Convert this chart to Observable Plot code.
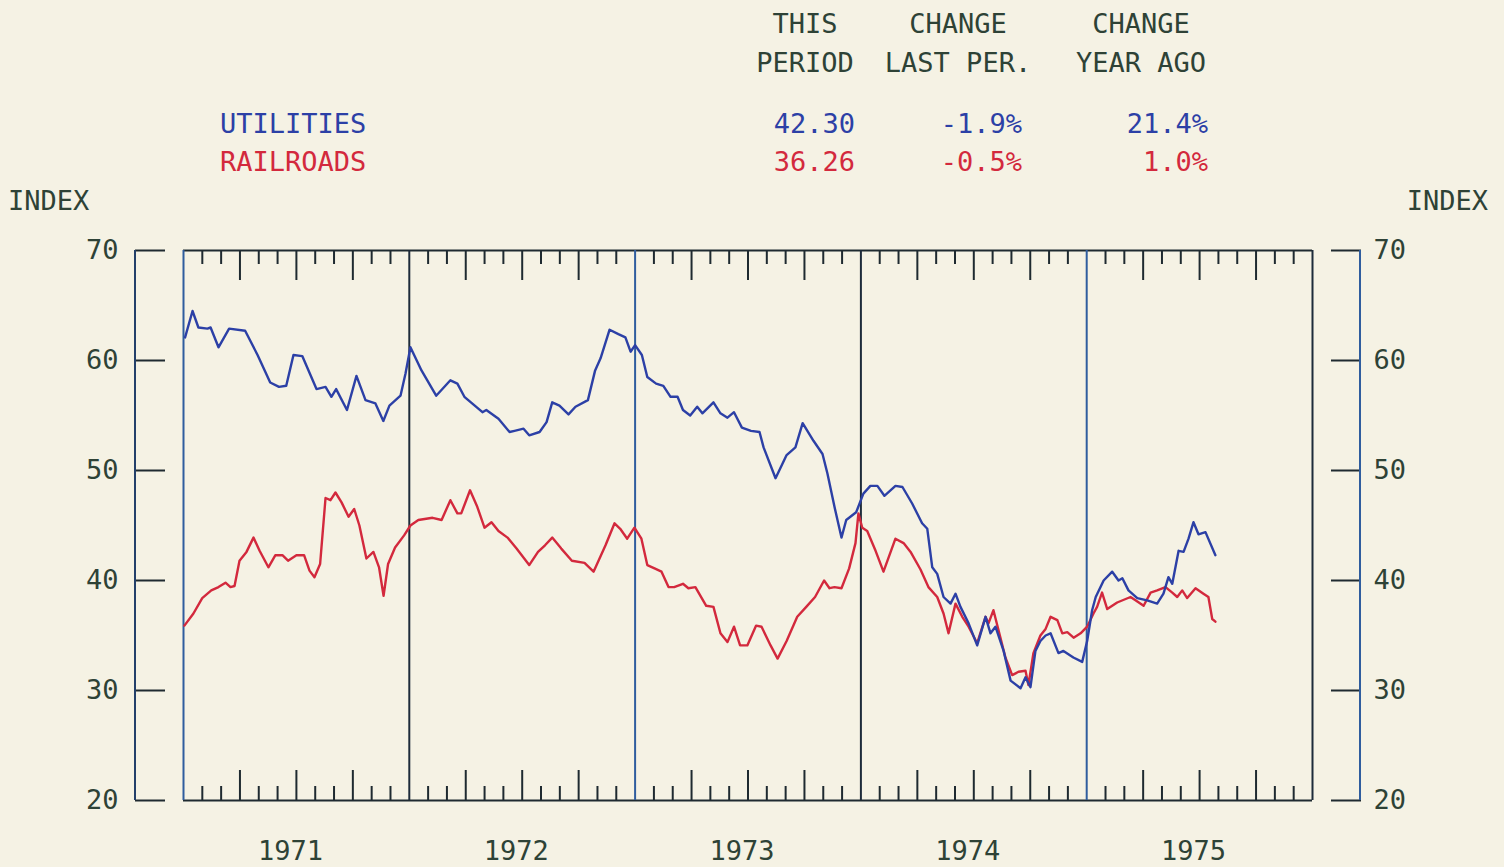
<!DOCTYPE html>
<html><head><meta charset="utf-8">
<script src="https://cdn.jsdelivr.net/npm/d3@7"></script>
<script src="https://cdn.jsdelivr.net/npm/@observablehq/plot@0.6"></script>
<style>
html,body{margin:0;padding:0;background:#f5f2e4;}
#wrap{position:relative;width:1504px;height:867px;overflow:hidden;}
#head{height:200px;}
.lbl{position:absolute;font-family:"DejaVu Sans Mono",monospace;font-size:27px;line-height:32px;white-space:pre;z-index:2;}
</style></head><body>
<div id="wrap"><div id="head"></div><div id="chart"></div></div>
<script>
// ---------- data (decimal years, index values) ----------
const utilYears = [1971.007,1971.040,1971.066,1971.106,1971.120,1971.155,1971.202,1971.273,1971.328,1971.384,1971.423,1971.455,1971.487,1971.526,1971.589,1971.629,1971.655,1971.676,1971.724,1971.766,1971.806,1971.850,1971.885,1971.912,1971.961,1971.983,
1972.005,1972.054,1972.119,1972.182,1972.213,1972.244,1972.324,1972.341,1972.395,1972.444,1972.466,1972.506,1972.531,1972.577,1972.608,1972.633,1972.665,1972.705,1972.736,1972.791,1972.823,1972.847,1972.887,1972.926,1972.957,1972.980,
1973.000,1973.030,1973.054,1973.093,1973.125,1973.157,1973.188,1973.212,1973.244,1973.275,1973.298,1973.347,1973.378,1973.409,1973.438,1973.473,1973.513,1973.551,1973.569,1973.622,1973.671,1973.710,1973.742,1973.790,1973.830,1973.852,1973.883,1973.914,1973.935,1973.979,
1974.011,1974.042,1974.073,1974.104,1974.153,1974.184,1974.227,1974.271,1974.294,1974.316,1974.338,1974.366,1974.397,1974.419,1974.441,1974.477,1974.515,1974.552,1974.574,1974.596,1974.632,1974.663,1974.707,1974.729,1974.751,1974.773,1974.795,1974.818,1974.840,1974.875,1974.897,1974.941,1974.980,
1975.002,1975.024,1975.040,1975.075,1975.113,1975.141,1975.158,1975.185,1975.224,1975.268,1975.312,1975.340,1975.362,1975.379,1975.407,1975.429,1975.451,1975.473,1975.495,1975.526,1975.570];
const utilValues = [62.1,64.5,63.0,62.9,63.0,61.2,62.9,62.7,60.5,58.0,57.6,57.7,60.5,60.4,57.4,57.6,56.7,57.4,55.5,58.6,56.4,56.1,54.5,55.9,56.8,58.8,
61.2,59.1,56.8,58.2,57.9,56.7,55.3,55.5,54.7,53.5,53.6,53.8,53.2,53.5,54.4,56.2,55.9,55.1,55.8,56.4,59.1,60.2,62.8,62.4,62.1,60.8,
61.4,60.5,58.5,57.9,57.7,56.7,56.7,55.5,55.0,55.8,55.2,56.2,55.2,54.8,55.3,53.9,53.6,53.5,52.1,49.3,51.4,52.1,54.3,52.7,51.5,49.7,46.7,43.9,45.5,46.2,
47.9,48.6,48.6,47.7,48.6,48.5,47.0,45.2,44.7,41.2,40.6,38.5,37.9,38.8,37.6,36.1,34.1,36.7,35.2,35.8,33.6,30.9,30.2,31.2,30.3,33.6,34.5,35.0,35.2,33.4,33.6,33.0,32.6,
34.5,37.3,38.5,40.0,40.8,40.0,40.2,39.1,38.4,38.2,37.9,38.8,40.3,39.7,42.7,42.6,43.8,45.3,44.2,44.4,42.3];

const railYears = [1971.004,1971.044,1971.083,1971.123,1971.155,1971.186,1971.208,1971.226,1971.248,1971.279,1971.310,1971.337,1971.376,1971.407,1971.438,1971.463,1971.500,1971.534,1971.558,1971.580,1971.605,1971.629,1971.651,1971.673,1971.700,1971.731,1971.756,1971.779,1971.810,1971.841,1971.866,1971.886,1971.906,1971.937,1971.977,
1972.005,1972.040,1972.103,1972.143,1972.182,1972.213,1972.230,1972.269,1972.301,1972.333,1972.364,1972.395,1972.435,1972.475,1972.531,1972.570,1972.601,1972.633,1972.673,1972.720,1972.776,1972.816,1972.869,1972.909,1972.934,1972.965,1972.997,
1973.028,1973.054,1973.086,1973.117,1973.148,1973.173,1973.212,1973.236,1973.267,1973.315,1973.347,1973.378,1973.409,1973.438,1973.465,1973.497,1973.536,1973.560,1973.600,1973.631,1973.671,1973.718,1973.758,1973.797,1973.837,1973.861,1973.883,1973.914,1973.948,1973.976,1973.989,
1974.006,1974.028,1974.065,1974.100,1974.153,1974.189,1974.220,1974.264,1974.299,1974.338,1974.366,1974.388,1974.419,1974.449,1974.477,1974.515,1974.552,1974.565,1974.587,1974.618,1974.640,1974.670,1974.698,1974.729,1974.742,1974.764,1974.795,1974.818,1974.840,1974.870,1974.892,1974.914,1974.942,1974.973,
1975.002,1975.030,1975.046,1975.068,1975.091,1975.135,1975.194,1975.216,1975.252,1975.283,1975.312,1975.349,1975.379,1975.401,1975.423,1975.445,1975.482,1975.517,1975.539,1975.556,1975.570];
const railValues = [35.9,37.0,38.4,39.1,39.4,39.8,39.4,39.5,41.8,42.6,43.9,42.7,41.2,42.3,42.3,41.8,42.3,42.3,40.9,40.3,41.5,47.5,47.3,48.0,47.1,45.8,46.5,45.0,42.0,42.6,41.2,38.6,41.5,43.0,44.1,
45.0,45.5,45.7,45.5,47.3,46.1,46.1,48.2,46.7,44.8,45.3,44.5,43.9,42.9,41.4,42.6,43.2,43.9,42.9,41.8,41.6,40.8,43.2,45.2,44.7,43.8,44.8,
43.8,41.4,41.1,40.8,39.4,39.4,39.7,39.3,39.4,37.7,37.6,35.2,34.4,35.8,34.1,34.1,35.9,35.8,34.1,32.9,34.5,36.7,37.6,38.5,40.0,39.3,39.4,39.3,41.1,43.4,46.1,
44.8,44.5,42.7,40.8,43.8,43.4,42.6,41.0,39.4,38.5,37.0,35.2,37.9,36.7,35.8,34.3,36.7,36.1,37.3,34.8,33.0,31.4,31.7,31.8,30.5,33.4,35.0,35.6,36.7,36.4,35.2,35.3,34.8,35.2,
35.8,37.0,37.6,38.9,37.4,38.0,38.5,38.2,37.7,38.9,39.1,39.4,38.9,38.5,39.1,38.4,39.3,38.8,38.5,36.5,36.26];

const seriesNames = ["UTILITIES", "RAILROADS"];
const columnHeads = [["THIS", "PERIOD"], ["CHANGE", "LAST PER."], ["CHANGE", "YEAR AGO"]];
const thisPeriod = ["42.30", "36.26"];
const changeLastPer = ["-1.9%", "-0.5%"];
const changeYearAgo = ["21.4%", "1.0%"];
const yTicks = [20, 30, 40, 50, 60, 70];
const yearBounds = [1971, 1972, 1973, 1974, 1975, 1976];
const yearLabels = ["1971", "1972", "1973", "1974", "1975"];
const axisTitle = "INDEX";

// ---------- styles ----------
const BLUE = "#2c40a6", RED = "#d3293d";
const TXT = "#2e4236", INK = "#1e2a30", RULEBLUE = "#2f5d9e", RULEDARK = "#1d2b3a";

// ---------- header (HTML text) ----------
const wrap = document.getElementById("wrap");
function place(text, x, yc, anchor, color) {
  const s = document.createElement("div");
  s.className = "lbl";
  s.textContent = text;
  s.style.color = color;
  s.style.top = (yc - 16) + "px";
  if (anchor === "end") s.style.right = (1504 - x) + "px";
  else if (anchor === "middle") { s.style.left = x + "px"; s.style.transform = "translateX(-50%)"; }
  else s.style.left = x + "px";
  wrap.appendChild(s);
}
const headCenters = [805, 958, 1141];
columnHeads.forEach((h, i) => { place(h[0], headCenters[i], 24, "middle", TXT); place(h[1], headCenters[i], 63, "middle", TXT); });
const rowY = [124, 162], rowColor = [BLUE, RED];
seriesNames.forEach((n, i) => {
  place(n, 220, rowY[i], "start", rowColor[i]);
  place(thisPeriod[i], 855, rowY[i], "end", rowColor[i]);
  place(changeLastPer[i], 1022, rowY[i], "end", rowColor[i]);
  place(changeYearAgo[i], 1208, rowY[i], "end", rowColor[i]);
});
place(axisTitle, 8, 201, "start", TXT);
place(axisTitle, 1488, 201, "end", TXT);

// ---------- chart ----------
const util = utilYears.map((t, i) => ({t, v: utilValues[i]}));
const rail = railYears.map((t, i) => ({t, v: railValues[i]}));
const shortTicks = [], longTicks = [];
for (let y = 1971; y < 1976; y++) for (let m = 1; m < 12; m++) (m % 3 === 0 ? longTicks : shortTicks).push(y + m / 12);
const yearMids = yearLabels.map((s, i) => yearBounds[i] + 0.5);

const FRAMEH = 550;
const chart = Plot.plot({
  width: 1504, height: 667,
  marginTop: 50, marginBottom: 67, marginLeft: 183, marginRight: 192,
  style: {background: "transparent", fontFamily: '"DejaVu Sans Mono", monospace', fontSize: "27px", color: TXT, overflow: "visible"},
  x: {domain: [1971, 1976], label: null},
  y: {domain: [20, 70], label: null},
  marks: [
    Plot.axisY(yTicks, {anchor: "left", label: null, tickSize: 30, dx: -18, tickPadding: 17, stroke: INK, fill: TXT, strokeWidth: 2, fontSize: 27, tickFormat: d => String(d)}),
    Plot.axisY(yTicks, {anchor: "right", label: null, tickSize: 30, dx: 18, tickPadding: 13, stroke: INK, fill: TXT, strokeWidth: 2, fontSize: 27, tickFormat: d => String(d)}),
    Plot.axisX(yearMids, {anchor: "bottom", label: null, tickSize: 0, tickPadding: 40, dx: -6, fill: TXT, fontSize: 27, tickFormat: d => yearLabels[Math.floor(d) - 1971]}),
    Plot.tickX(shortTicks, {x: d => d, insetBottom: FRAMEH - 14, stroke: INK, strokeWidth: 2}),
    Plot.tickX(longTicks, {x: d => d, insetBottom: FRAMEH - 30, stroke: INK, strokeWidth: 2}),
    Plot.tickX(shortTicks, {x: d => d, insetTop: FRAMEH - 14, stroke: INK, strokeWidth: 2}),
    Plot.tickX(longTicks, {x: d => d, insetTop: FRAMEH - 30, stroke: INK, strokeWidth: 2}),
    Plot.ruleY([20, 70], {stroke: INK, strokeWidth: 2}),
    Plot.ruleX(yearBounds.filter((d, i) => i % 2 === 0 && i < 5), {stroke: RULEBLUE, strokeWidth: 2}),
    Plot.ruleX(yearBounds.filter((d, i) => i % 2 === 1 || i === 5), {stroke: RULEDARK, strokeWidth: 2}),
    Plot.line(rail, {x: "t", y: "v", stroke: RED, strokeWidth: 2.4, strokeLinejoin: "round"}),
    Plot.line(util, {x: "t", y: "v", stroke: BLUE, strokeWidth: 2.4, strokeLinejoin: "round"})
  ]
});
document.getElementById("chart").appendChild(chart);

// vertical axis lines beside the tick marks
const ys = chart.scale("y");
const y0 = ys.apply(70), y1 = ys.apply(20);
const svg = d3.select(chart);
svg.append("line").attr("x1", 183 - 48).attr("x2", 183 - 48).attr("y1", y0).attr("y2", y1)
  .attr("stroke", "#23406a").attr("stroke-width", 2);
svg.append("line").attr("x1", 1312 + 48).attr("x2", 1312 + 48).attr("y1", y0).attr("y2", y1)
  .attr("stroke", RULEBLUE).attr("stroke-width", 2);
</script>
</body></html>
